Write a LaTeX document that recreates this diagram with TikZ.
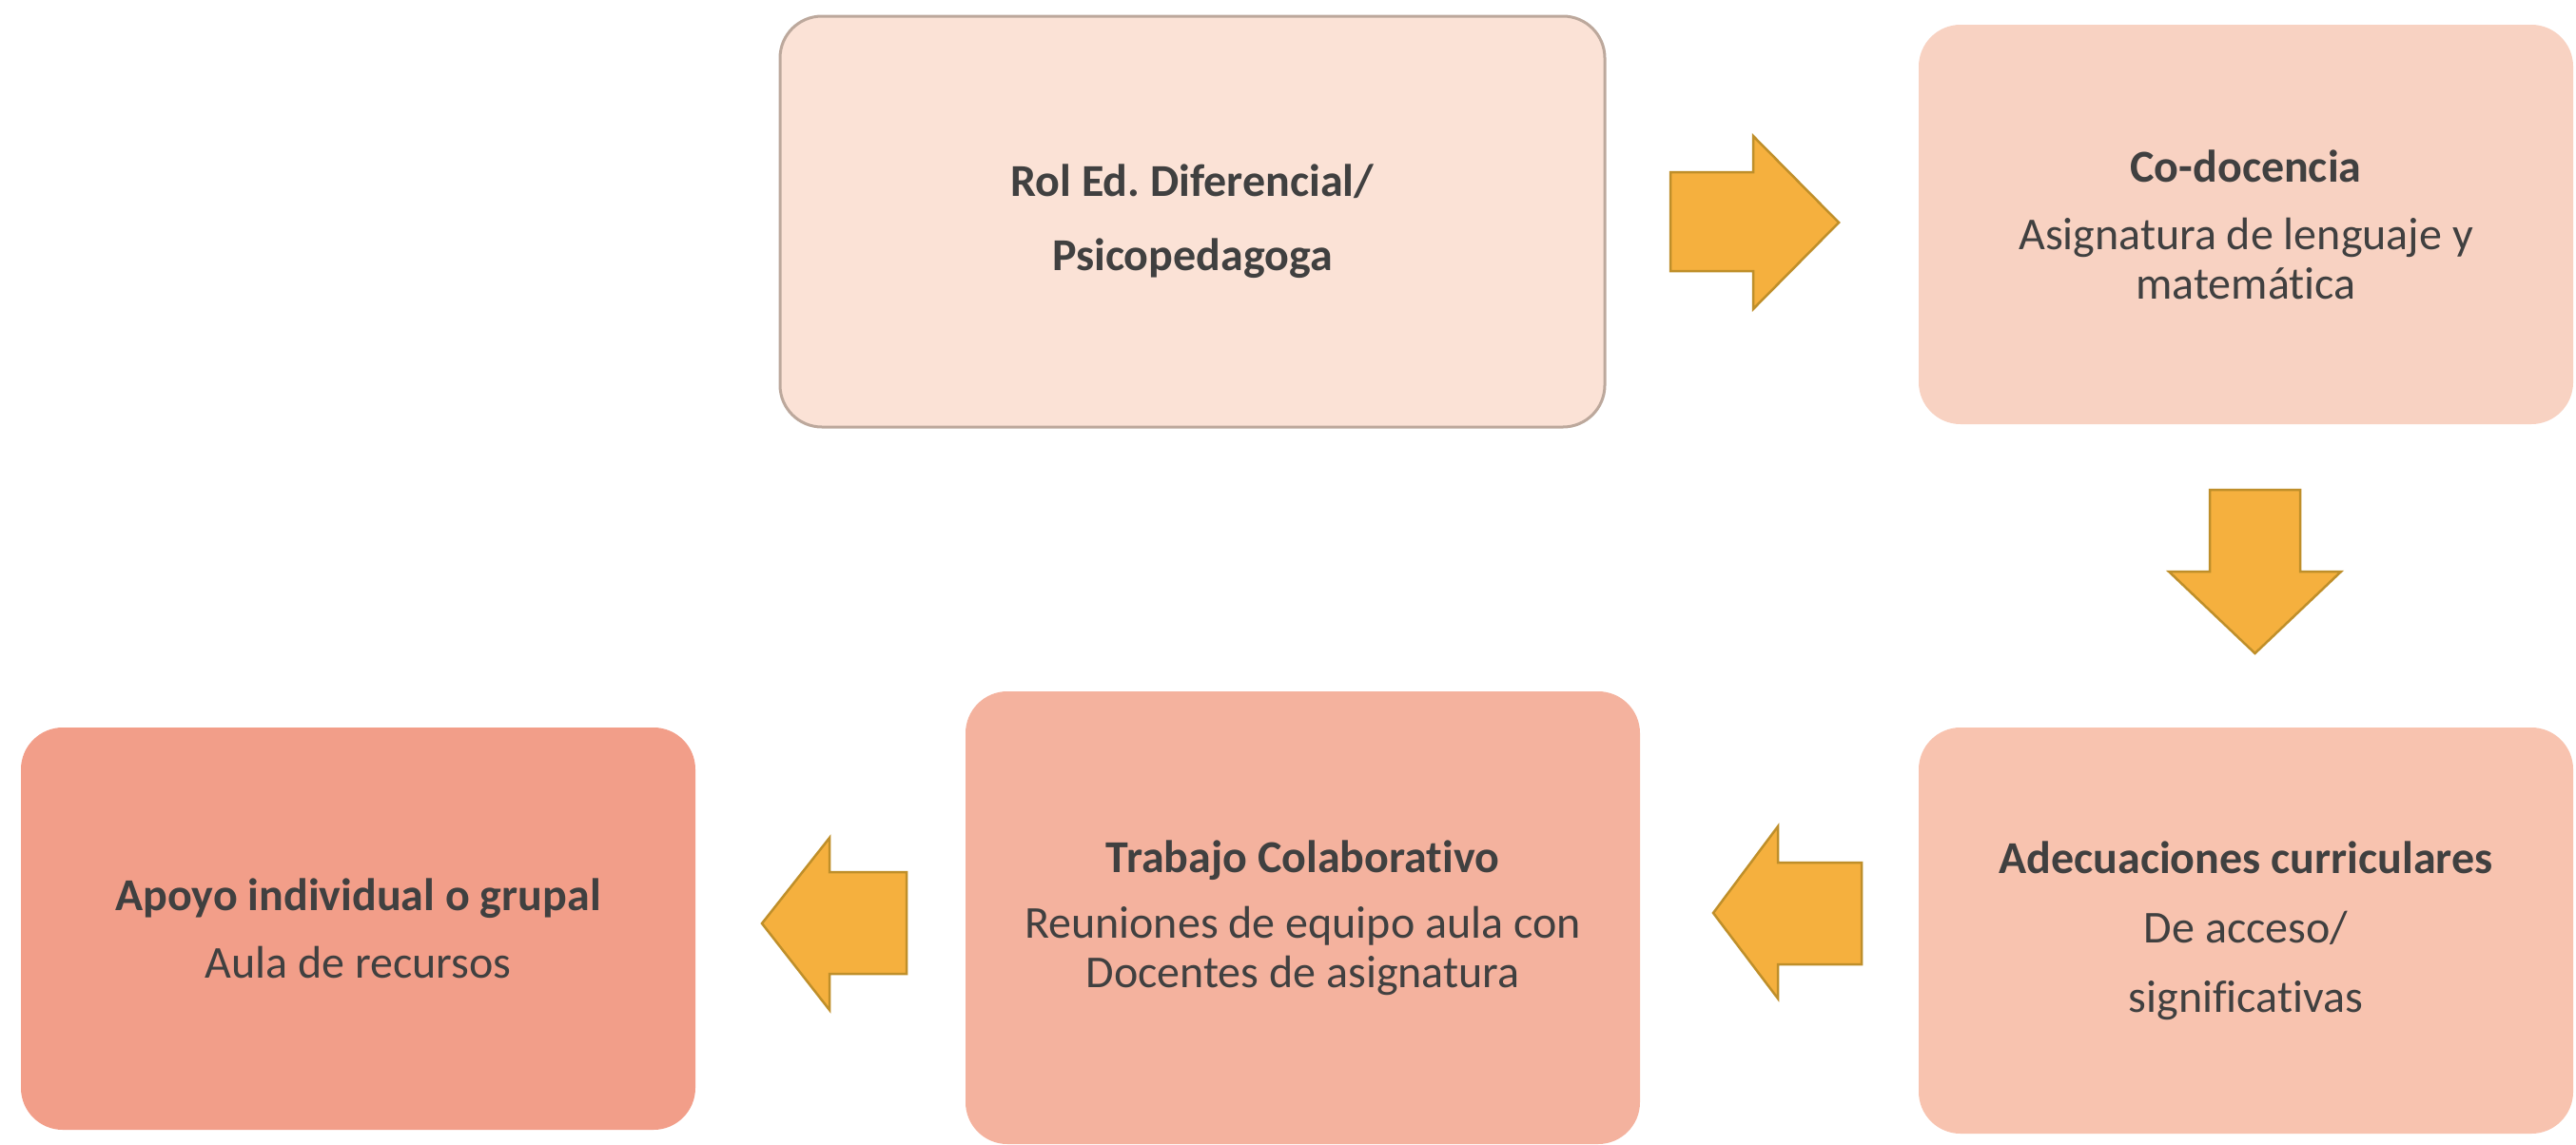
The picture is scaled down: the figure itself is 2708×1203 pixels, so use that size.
\documentclass[tikz,border=0pt]{standalone}
\usepackage{fontspec}
\setmainfont{Carlito}[Ligatures=NoCommon]
\frenchspacing
\definecolor{txt}{HTML}{404040}
\definecolor{fA}{HTML}{FBE2D6}
\definecolor{fB}{HTML}{F8D2C2}
\definecolor{fC}{HTML}{F8C3AF}
\definecolor{fD}{HTML}{F4B29E}
\definecolor{fE}{HTML}{F29E89}
\definecolor{brd}{HTML}{BCA89C}
\definecolor{arrfill}{HTML}{F5B03E}
\definecolor{arrbrd}{HTML}{BF8F2A}
\tikzset{
  box/.style={rectangle, rounded corners=44pt, align=center, text=txt,
    font=\fontsize{48}{52}\selectfont\frenchspacing, inner sep=0pt},
  blockarrow/.style={fill=arrfill, draw=arrbrd, line width=2.5pt, line join=miter},
}
\begin{document}
\begin{tikzpicture}[x=1pt,y=-1pt]
\useasboundingbox (0,0) rectangle (2708,1203);
\fill[white] (0,0) rectangle (2708,1203);
% boxes
\node[box, fill=fA, draw=brd, line width=3pt, minimum width=867pt, minimum height=432pt]
  (rol) at (1253.5,233) {\textbf{Rol Ed. Diferencial/}\\[26pt]\textbf{Psicopedagoga}};
\node[box, fill=fB, minimum width=688pt, minimum height=420pt]
  (codo) at (2361,236) {\textbf{Co-docencia}\\[19pt]Asignatura de lenguaje y\\matemática};
\node[box, fill=fC, minimum width=688pt, minimum height=427pt]
  (adec) at (2361,978.5) {\textbf{Adecuaciones curriculares}\\[21pt]De acceso/\\[21pt]significativas};
\node[box, fill=fD, minimum width=709pt, minimum height=476pt]
  (trab) at (1369.5,965) {\textbf{Trabajo Colaborativo}\\[17pt]Reuniones de equipo aula con\\Docentes de asignatura};
\node[box, fill=fE, minimum width=709pt, minimum height=423pt]
  (apoyo) at (376.5,976.5) {\textbf{Apoyo individual o grupal}\\[19pt]Aula de recursos};
% block arrows
\draw[blockarrow] (1756,181) -- (1843,181) -- (1843,143) -- (1933,234) -- (1843,325)
  -- (1843,285) -- (1756,285) -- cycle;
\draw[blockarrow] (2323,515) -- (2418,515) -- (2418,601) -- (2461,601) -- (2370.5,687)
  -- (2280,601) -- (2323,601) -- cycle;
\draw[blockarrow] (1957,907) -- (1869,907) -- (1869,869) -- (1801,960) -- (1869,1050)
  -- (1869,1014) -- (1957,1014) -- cycle;
\draw[blockarrow] (953,917) -- (872,917) -- (872,881) -- (801,971) -- (872,1062)
  -- (872,1024) -- (953,1024) -- cycle;
\end{tikzpicture}
\end{document}
